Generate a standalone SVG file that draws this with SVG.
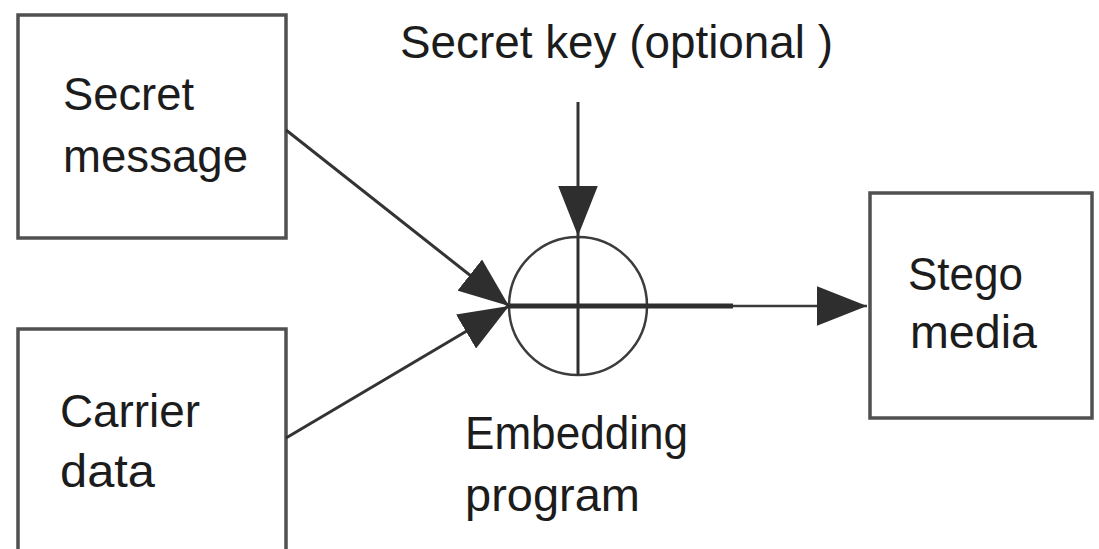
<svg xmlns="http://www.w3.org/2000/svg" width="1099" height="549" viewBox="0 0 1099 549">
  <style>
    .box { fill: #ffffff; stroke: #505050; stroke-width: 3.5; }
    .lbl { font-family: "Liberation Sans", Arial, sans-serif; font-size: 46px; fill: #1c1c1c; }
    .wire { fill: none; stroke: #333333; stroke-width: 3; }
    .thin { fill: none; stroke: #3a3a3a; stroke-width: 2.5; }
    .ring { fill: none; stroke: #3c3c3c; stroke-width: 2.5; }
  </style>
  <defs>
    <marker id="arrow" markerUnits="userSpaceOnUse" markerWidth="50" markerHeight="40"
            viewBox="0 0 48 38" refX="48" refY="19" orient="auto">
      <path d="M0,0 L48,19 L0,38 Z" fill="#2e2e2e"/>
    </marker>
  </defs>

  <rect width="1099" height="549" fill="#ffffff"/>

  <!-- inputs -->
  <g id="secret-message">
    <rect class="box" x="18" y="15" width="268" height="223"/>
    <text class="lbl" x="63" y="110" textLength="131" lengthAdjust="spacingAndGlyphs">Secret</text>
    <text class="lbl" x="63" y="172" textLength="185" lengthAdjust="spacingAndGlyphs">message</text>
  </g>

  <g id="carrier-data">
    <rect class="box" x="18" y="329" width="268" height="240"/>
    <text class="lbl" x="60" y="427" textLength="140" lengthAdjust="spacingAndGlyphs">Carrier</text>
    <text class="lbl" x="60" y="487" textLength="95" lengthAdjust="spacingAndGlyphs">data</text>
  </g>

  <g id="secret-key">
    <text class="lbl" x="400" y="58" textLength="433" lengthAdjust="spacingAndGlyphs">Secret key (optional )</text>
  </g>

  <!-- embedding operator: circle with cross -->
  <g id="embedding-program">
    <circle class="ring" cx="578" cy="306" r="69"/>
    <line x1="578" y1="237" x2="578" y2="375" stroke="#2e2e2e" stroke-width="3"/>
    <line x1="509" y1="306" x2="733" y2="306" stroke="#2e2e2e" stroke-width="5"/>
    <text class="lbl" x="465" y="449" textLength="223" lengthAdjust="spacingAndGlyphs">Embedding</text>
    <text class="lbl" x="465" y="511" textLength="175" lengthAdjust="spacingAndGlyphs">program</text>
  </g>

  <!-- output -->
  <g id="stego-media">
    <rect class="box" x="870" y="193" width="222" height="225"/>
    <text class="lbl" x="908" y="290" textLength="115" lengthAdjust="spacingAndGlyphs">Stego</text>
    <text class="lbl" x="910" y="348" textLength="127" lengthAdjust="spacingAndGlyphs">media</text>
  </g>

  <!-- connectors -->
  <g id="connectors">
    <line class="wire" x1="286" y1="130" x2="509" y2="306" marker-end="url(#arrow)"/>
    <line class="wire" x1="286" y1="438" x2="509" y2="306" marker-end="url(#arrow)"/>
    <line class="wire" x1="578" y1="102" x2="578" y2="236" marker-end="url(#arrow)"/>
    <line class="thin" x1="733" y1="306" x2="867" y2="306" marker-end="url(#arrow)"/>
  </g>
</svg>
